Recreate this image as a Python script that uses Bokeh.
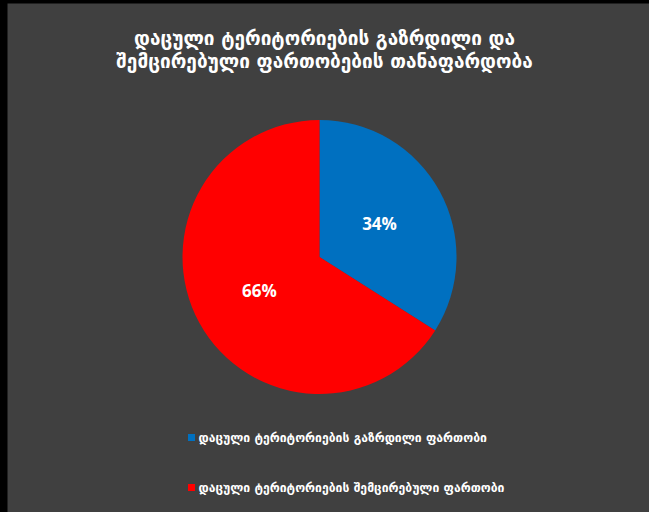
import math
from bokeh.plotting import figure
from bokeh.models import Range1d
from bokeh.core.properties import value
from bokeh.embed import file_html
from bokeh.resources import INLINE

title_lines = ["დაცული ტერიტორიების გაზრდილი და", "შემცირებული ფართობების თანაფარდობა"]
categories = ["დაცული ტერიტორიების გაზრდილი ფართობი", "დაცული ტერიტორიების შემცირებული ფართობი"]
shares = [34, 66]
colors = ["#0070C0", "#FF0000"]

X0, Y0 = 7, 3
W, H = 649 - X0, 512 - Y0
p = figure(width=W, height=H, output_backend="svg", toolbar_location=None,
           x_range=Range1d(X0, X0 + W), y_range=Range1d(0, H), min_border=0,
           background_fill_color="#404040", border_fill_color="#404040",
           outline_line_color=None)
p.axis.visible = False
p.grid.visible = False

def Y(img_y):
    return 512 - img_y

cx, cy, R = 319, Y(256.5), 137
total = sum(shares)
start = math.pi / 2
starts, ends, lx, ly, labels = [], [], [], [], []
for s in shares:
    sweep = s / total * 2 * math.pi
    end = start - sweep
    starts.append(start)
    ends.append(end)
    mid = (start + end) / 2
    lx.append(cx + 0.5 * R * math.cos(mid))
    ly.append(cy + 0.5 * R * math.sin(mid))
    labels.append(f"{s}%")
    start = end

p.wedge(x=cx, y=cy, radius=R, radius_units="screen", start_angle=starts, end_angle=ends,
        direction="clock", fill_color=colors, line_color=None)
p.text(x=lx, y=ly, text=labels, text_color="white", text_font=value("Open Sans"),
       text_font_style="bold", text_font_size="17px", text_align="center", text_baseline="middle")

p.text(x=[324, 324], y=[Y(37), Y(60)], text=title_lines, text_color="white",
       text_font=value("DejaVu Sans"), text_font_style="bold", text_font_size="19px",
       text_align="center", text_baseline="middle")

leg_y = [Y(437), Y(487)]
p.rect(x=[191, 191], y=leg_y, width=7, height=7, width_units="screen", height_units="screen",
       fill_color=colors, line_color=None)
p.text(x=[198, 198], y=leg_y, text=categories, text_color="white",
       text_font=value("DejaVu Sans"), text_font_style="bold", text_font_size="12.2px",
       text_align="left", text_baseline="middle")

html = file_html(p, INLINE)
html = html.replace("</head>",
                    "<style>html,body{background:#000000 !important;}"
                    "body{margin:3px 0 0 7px !important;}</style></head>", 1)
open("out.html", "w").write(html)
